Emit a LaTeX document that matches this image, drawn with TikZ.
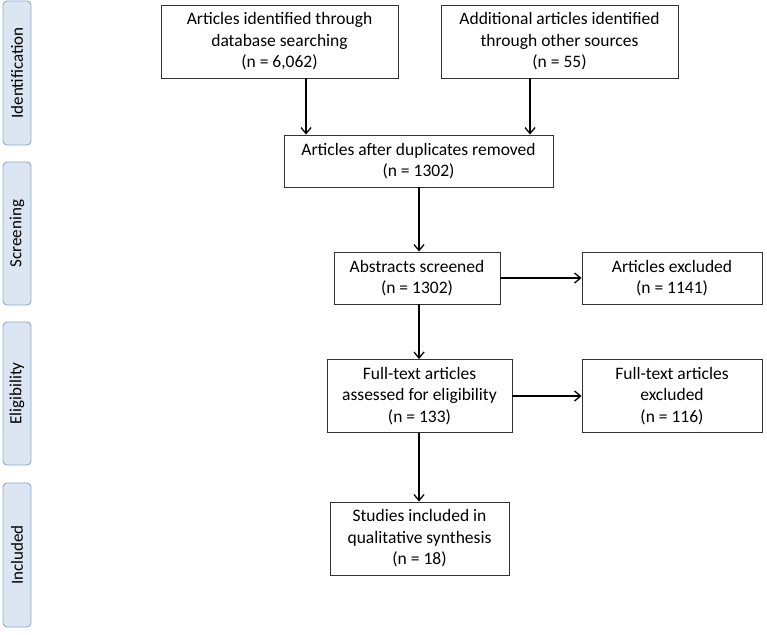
\documentclass[tikz,border=0pt]{standalone}
\usepackage{fontspec}
\setmainfont{Carlito}
\usetikzlibrary{arrows.meta}
\definecolor{sidefill}{HTML}{DCE6F2}
\definecolor{sideline}{HTML}{8EA9CF}
\definecolor{boxline}{HTML}{333333}
\begin{document}
\begin{tikzpicture}[x=1pt,y=-1pt,
  flowbox/.style={draw=boxline,line width=0.9pt,fill=white,align=center,inner sep=0pt,
    font=\fontsize{17.5}{21.5}\selectfont},
  sidelabel/.style={draw=sideline,line width=0.9pt,fill=sidefill,rounded corners=4pt,
    inner sep=0pt,font=\fontsize{17}{20}\selectfont},
  flowarrow/.style={line width=1.3pt,-{Straight Barb[length=6pt,width=10pt,line width=1.3pt]}}]
\useasboundingbox (0,0) rectangle (767,634);
% side labels
\node[sidelabel,minimum width=28pt,minimum height=144pt] (sid) at (17,73) {\rotatebox{90}{Identification}};
\node[sidelabel,minimum width=28pt,minimum height=143pt] (sscr) at (17,233.5) {\rotatebox{90}{Screening}};
\node[sidelabel,minimum width=28pt,minimum height=143pt] (seli) at (17,393.5) {\rotatebox{90}{Eligibility}};
\node[sidelabel,minimum width=28pt,minimum height=144pt] (sinc) at (17,555) {\rotatebox{90}{Included}};
% boxes
\node[flowbox,minimum width=237pt,minimum height=73pt] (b1) at (279.5,41.5)
  {Articles identified through\\database searching\\(n = 6,062)};
\node[flowbox,minimum width=237pt,minimum height=73pt] (b2) at (559.5,41.5)
  {Additional articles identified\\through other sources\\(n = 55)};
\node[flowbox,minimum width=269pt,minimum height=52pt] (b3) at (418.5,161)
  {Articles after duplicates removed\\(n = 1302)};
\node[flowbox,minimum width=166pt,minimum height=52pt] (b4) at (417,278)
  {Abstracts screened\\(n = 1302)};
\node[flowbox,minimum width=180pt,minimum height=52pt] (b5) at (672,278)
  {Articles excluded\\(n = 1141)};
\node[flowbox,minimum width=185pt,minimum height=73pt] (b6) at (419.5,396)
  {Full-text articles\\assessed for eligibility\\(n = 133)};
\node[flowbox,minimum width=180pt,minimum height=73pt] (b7) at (672,396)
  {Full-text articles\\excluded\\(n = 116)};
\node[flowbox,minimum width=179pt,minimum height=73pt] (b8) at (419.5,538.5)
  {Studies included in\\qualitative synthesis\\(n = 18)};
% arrows
\draw[flowarrow] (b1.south -| 306,0) -- (b3.north -| 306,0);
\draw[flowarrow] (b2.south -| 530,0) -- (b3.north -| 530,0);
\draw[flowarrow] (b3.south -| 419,0) -- (b4.north -| 419,0);
\draw[flowarrow] (b4.east) -- (b5.west);
\draw[flowarrow] (b4.south -| 419,0) -- (b6.north -| 419,0);
\draw[flowarrow] (b6.east) -- (b7.west);
\draw[flowarrow] (b6.south -| 419,0) -- (b8.north -| 419,0);
\end{tikzpicture}
\end{document}
